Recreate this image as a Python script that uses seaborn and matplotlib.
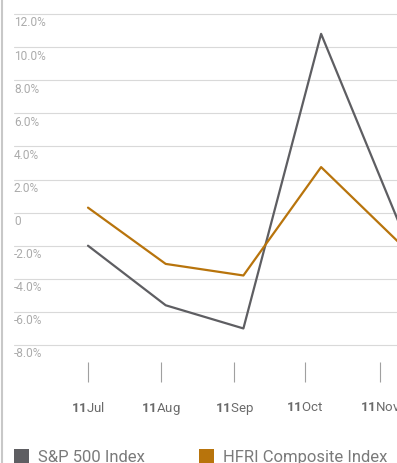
import numpy as np
import pandas as pd
import matplotlib
matplotlib.use("Agg")
import matplotlib.pyplot as plt
from matplotlib.transforms import offset_copy
from matplotlib.patches import Rectangle
from matplotlib.lines import Line2D
import seaborn as sns

# ---- data ----
months = ["Jul", "Aug", "Sep", "Oct", "Nov"]
year_label = "11"
sp500 = [-2.0, -5.6, -7.0, 10.8, -0.6]
hfri = [0.3, -3.1, -3.8, 2.75, -1.8]
series_names = ["S&P 500 Index", "HFRI Composite Index"]
yticks = [12, 10, 8, 6, 4, 2, 0, -2, -4, -6, -8]
ytick_labels = ["12.0%", "10.0%", "8.0%", "6.0%", "4.0%", "2.0%", "0",
                "-2.0%", "-4.0%", "-6.0%", "-8.0%"]

colors = {"S&P 500 Index": "#5e5e62", "HFRI Composite Index": "#b8740c"}

sns.set_theme(style="white")
plt.rcParams["font.family"] = ["Roboto", "DejaVu Sans"]
plt.rcParams["mathtext.fontset"] = "custom"
plt.rcParams["mathtext.rm"] = "Roboto"
plt.rcParams["mathtext.bf"] = "Roboto:bold"

df = pd.DataFrame({
    "x": list(range(len(months))) * 2,
    "value": sp500 + hfri,
    "series": [series_names[0]] * len(months) + [series_names[1]] * len(months),
})

W, H = 397, 464
fig = plt.figure(figsize=(W / 100, H / 100), dpi=100)
ax = fig.add_axes([14 / W, (H - 363) / H, (W - 14) / W, 363 / H])

sns.lineplot(data=df, x="x", y="value", hue="series", palette=colors,
             hue_order=series_names, linewidth=1.6, legend=False, ax=ax)

px_per_unit = 331 / 20.0
ax.set_ylim(-8 - (363 - 346) / px_per_unit, 12 + 15 / px_per_unit)
ax.set_xlim(-(88 - 14) / 77.7, (397 - 88) / 77.7)

for s in ax.spines.values():
    s.set_visible(False)

ax.set_yticks(yticks)
ax.set_yticklabels([])
ax.tick_params(axis="y", length=0)
ax.grid(axis="y", color="#d9d9d9", linewidth=0.8)
ax.grid(axis="x", visible=False)
ax.set_axisbelow(True)

ytr = offset_copy(ax.get_yaxis_transform(), fig=fig, x=0, y=-11.5, units="dots")
for v, lab in zip(yticks, ytick_labels):
    ax.text(0.0, v, lab, transform=ytr, ha="left", va="baseline",
            fontsize=8.6, color="#ababab")

tick_pos = [0, 73 / 77.7, 146 / 77.7, 217 / 77.7, 292 / 77.7]
ax.set_xticks(tick_pos)
ax.set_xticklabels([rf"$\mathbf{{{year_label}}}${m}" for m in months])
ax.tick_params(axis="x", direction="out", length=14.4, width=0.8,
               color="#a0a0a0", pad=13, labelsize=9.5, labelcolor="#6a6a6a",
               bottom=True)
ax.set_xlabel("")
ax.set_ylabel("")

# left border line
fig.add_artist(Line2D([1.5 / W, 1.5 / W], [0, 1], transform=fig.transFigure,
                      color="#c8c8c8", linewidth=1.5))

# legend
leg_items = [(14, 37.5, series_names[0]), (199, 223, series_names[1])]
for sx, tx, name in leg_items:
    fig.add_artist(Rectangle((sx / W, 0), 14.5 / W, 14 / H,
                             transform=fig.transFigure,
                             facecolor=colors[name], edgecolor="none"))
    fig.text(tx / W, (H - 462) / H, name, ha="left", va="baseline",
             fontsize=12, color="#7a7a7a")

fig.savefig("out.png", dpi=100)
